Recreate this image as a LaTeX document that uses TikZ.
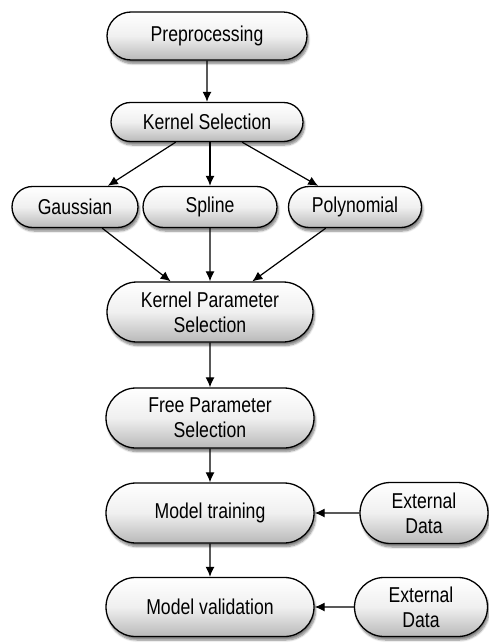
\documentclass[tikz,border=0pt]{standalone}
\usepackage{fontspec}
\setmainfont{Liberation Sans}
\newfontfamily\boxfont[FakeStretch=0.82]{Liberation Sans}
\usetikzlibrary{shapes.misc,arrows.meta,shadows.blur}
\begin{document}
\begin{tikzpicture}[x=1pt,y=-1pt,
  box/.style={rounded rectangle, draw=black, line width=1.3pt,
    top color=white, bottom color=gray!55, middle color=gray!12,
    blur shadow={shadow blur steps=6, shadow xshift=1.5pt, shadow yshift=-3.5pt, shadow opacity=50},
    inner sep=0pt, align=center,
    font=\boxfont\fontsize{21.5}{25}\selectfont},
  arr/.style={-{Latex[length=10pt,width=9pt]}, line width=1.2pt}]
\useasboundingbox (0,0) rectangle (489,644);
\node[box, minimum width=200pt, minimum height=48pt] (pre) at (207,36) {Preprocessing};
\node[box, minimum width=192pt, minimum height=39pt] (ks) at (207,122) {Kernel Selection};
\node[box, minimum width=126pt, minimum height=41pt] (ga) at (75,207) {Gaussian};
\node[box, minimum width=134pt, minimum height=41pt] (sp) at (210,207) {Spline};
\node[box, minimum width=133pt, minimum height=41pt] (po) at (355,207) {Polynomial};
\node[box, minimum width=206pt, minimum height=60pt] (kp) at (210,312) {Kernel Parameter\\Selection};
\node[box, minimum width=208pt, minimum height=60pt] (fp) at (210,418) {Free Parameter\\Selection};
\node[box, minimum width=208pt, minimum height=60pt] (mt) at (210,513) {Model training};
\node[box, minimum width=208pt, minimum height=59pt] (mv) at (210,607) {Model validation};
\node[box, minimum width=128pt, minimum height=61pt] (e1) at (424,513) {External\\Data};
\node[box, minimum width=133pt, minimum height=59pt] (e2) at (421,607) {External\\Data};
\draw[arr] (pre) -- (ks);
\draw[arr] (ks) -- (ga);
\draw[arr] (ks.south -| sp.north) -- (sp.north);
\draw[arr] (ks) -- (po);
\draw[arr] (ga) -- (kp);
\draw[arr] (sp) -- (kp);
\draw[arr] (po) -- (kp);
\draw[arr] (kp) -- (fp);
\draw[arr] (fp) -- (mt);
\draw[arr] (mt) -- (mv);
\draw[arr] (e1) -- (mt);
\draw[arr] (e2) -- (mv);
\end{tikzpicture}
\end{document}
